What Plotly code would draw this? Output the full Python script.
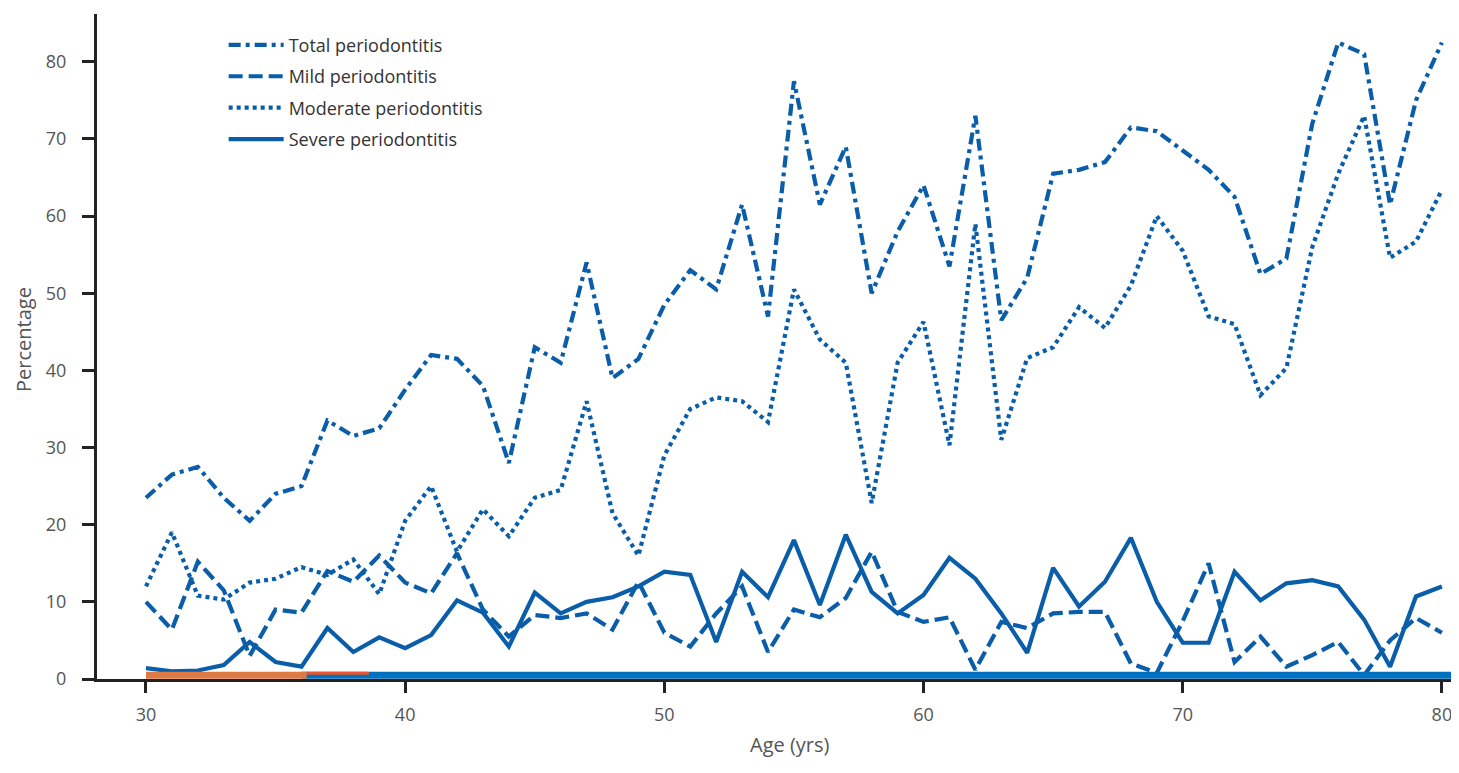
import plotly.graph_objects as go

ages = list(range(30, 81))

total = [23.5, 26.5, 27.5, 23.5, 20.5, 24, 25, 33.5, 31.5, 32.5,
         37.5, 42, 41.5, 38, 28, 43, 41, 54, 39, 41.5,
         48.5, 53, 50.5, 61.5, 47, 77.5, 61.5, 69, 50, 58,
         64, 53.5, 73, 46.5, 52, 65.5, 66, 67, 71.5, 71,
         68.5, 66, 62.5, 52.5, 54.5, 72, 82.5, 81, 61.5, 75,
         82.5]

mild = [10, 6.4, 15.2, 11.5, 3, 9, 8.6, 14, 12.6, 16,
        12.5, 11.1, 16.3, 9, 5.5, 8.3, 7.9, 8.5, 6.4, 12.6,
        6, 4.2, 8.5, 12, 3.5, 9, 8, 10.5, 16.5, 8.7,
        7.4, 8, 1.2, 7.4, 6.6, 8.5, 8.7, 8.7, 2, 0.8,
        7.5, 15, 2.2, 5.5, 1.6, 3.1, 4.8, 0.5, 5, 7.9,
        6]

moderate = [12, 19, 10.8, 10.3, 12.5, 13, 14.5, 13.5, 15.5, 11,
            20.5, 25, 16.5, 22, 18.5, 23.5, 24.5, 36, 21.5, 16,
            29, 35, 36.5, 36, 33.3, 50.5, 44, 41, 22.8, 41,
            46.3, 30.3, 59, 31, 41.6, 43, 48.2, 45.5, 51, 60,
            55.5, 47, 46, 36.8, 40.3, 56, 65.5, 73, 54.6, 56.7,
            63.4]

severe = [1.4, 1.0, 1.1, 1.8, 4.8, 2.2, 1.6, 6.6, 3.5, 5.4,
          4, 5.7, 10.2, 8.6, 4.2, 11.2, 8.5, 10, 10.6, 12,
          13.9, 13.5, 4.8, 13.9, 10.6, 18, 9.6, 18.7, 11.3, 8.5,
          10.9, 15.7, 13, 8.5, 3.4, 14.4, 9.4, 12.6, 18.3, 10,
          4.7, 4.7, 13.9, 10.2, 12.4, 12.8, 12, 7.7, 1.6, 10.7,
          12]

series_names = ["Total periodontitis", "Mild periodontitis",
                "Moderate periodontitis", "Severe periodontitis"]
x_ticks = [30, 40, 50, 60, 70, 80]
y_ticks = [0, 10, 20, 30, 40, 50, 60, 70, 80]

BLUE = "#0a5ea9"
FONT = "Open Sans"

fig = go.Figure()
styles = [(total, "12px,5px,4px,5px"), (mild, "14px,6px"),
          (moderate, "4px,4px"), (severe, "solid")]
for i, (vals, dash) in enumerate(styles):
    fig.add_trace(go.Scatter(
        x=ages, y=vals, mode="lines", name=series_names[i],
        legendgroup=f"g{i}",
        line=dict(color=BLUE, width=4.2, dash=dash),
    ))

# baseline bar artifact (from the source image)
fig.add_shape(type="line", xref="x", yref="y", x0=36, x1=80.7, y0=0.5, y1=0.5,
              line=dict(color="#0070c0", width=7), layer="above")
fig.add_shape(type="line", xref="x", yref="y", x0=ages[0], x1=36.2, y0=0.5, y1=0.5,
              line=dict(color="#e07a45", width=7), layer="above")
fig.add_shape(type="line", xref="x", yref="y", x0=36.2, x1=38.6, y0=0.75, y1=0.75,
              line=dict(color="#e8552e", width=3), layer="above")
fig.add_shape(type="line", xref="paper", yref="y", x0=0.9988, x1=0.9988, y0=0, y1=11.5,
              line=dict(color="#0070c0", width=2), layer="above")

fig.update_layout(
    width=1451, height=765,
    margin=dict(l=89, r=0, t=6, b=94),
    paper_bgcolor="white", plot_bgcolor="white",
    font=dict(family=FONT, color="#555555", size=18),
    showlegend=True,
    legend=dict(x=0.093, y=0.981, xanchor="left", yanchor="top",
                bgcolor="rgba(0,0,0,0)", font=dict(size=18, color="#333333", family=FONT),
                itemwidth=55, tracegroupgap=5),
    xaxis=dict(range=[28.11, 80.66], tickmode="array", tickvals=x_ticks,
               showgrid=False, zeroline=False, showline=True, linecolor="#222222",
               linewidth=3, ticks="outside", ticklen=11, tickwidth=3, tickcolor="#222222",
               tickfont=dict(size=18, color="#555555"), ticklabelstandoff=6),
    yaxis=dict(range=[0, 86.2], tickmode="array", tickvals=y_ticks,
               showgrid=False, zeroline=False, showline=True, linecolor="#222222",
               linewidth=3, ticks="outside", ticklen=12, tickwidth=3, tickcolor="#222222",
               tickfont=dict(size=18, color="#555555"), ticklabelstandoff=12),
    annotations=[
        dict(text="Age (yrs)", xref="paper", yref="paper", x=0.509, y=-0.0992,
             xanchor="center", yanchor="middle", showarrow=False,
             font=dict(size=20, color="#555555", family=FONT)),
        dict(text="Percentage", xref="paper", yref="paper", x=-0.0545, y=0.511,
             xanchor="center", yanchor="middle", showarrow=False, textangle=-90,
             font=dict(size=20, color="#555555", family=FONT)),
    ],
)

fig.write_html("out.html")
